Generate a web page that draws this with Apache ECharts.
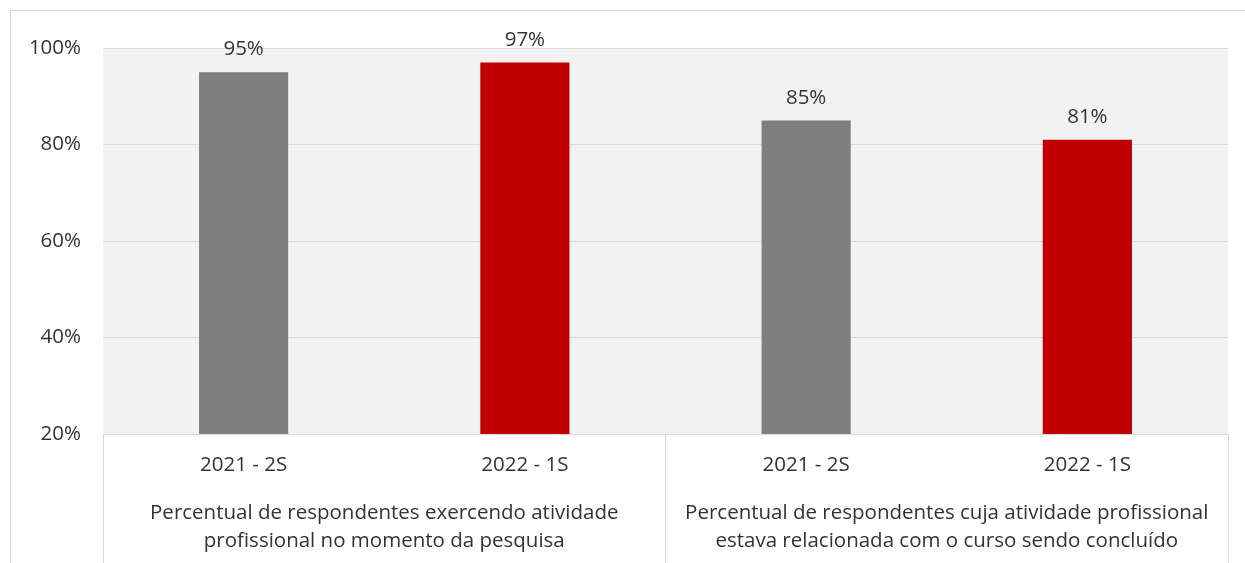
<!DOCTYPE html>
<html>
<head>
<meta charset="utf-8">
<script src="https://cdn.jsdelivr.net/npm/echarts@6/dist/echarts.min.js"></script>
<style>
  html, body { margin: 0; padding: 0; background: #fff; }
  #wrap { position: relative; width: 1245px; height: 563px; overflow: hidden; }
  #chart { position: absolute; left: 0; top: 0; width: 1245px; height: 563px; }
  #frame { position: absolute; left: 10px; top: 10px; width: 1300px; height: 700px;
           border-top: 1px solid #d9d9d9; border-left: 1px solid #d9d9d9; pointer-events: none; }
</style>
</head>
<body>
<div id="wrap"><div id="frame"></div><div id="chart"></div></div>
<script>
const periods = ['2021 - 2S', '2022 - 1S', '2021 - 2S', '2022 - 1S'];
const groups = [
  'Percentual de respondentes exercendo atividade\nprofissional no momento da pesquisa',
  'Percentual de respondentes cuja atividade profissional\nestava relacionada com o curso sendo concluído'
];
const values = [95, 97, 85, 81];
const barColors = ['#7f7f7f', '#c00000', '#7f7f7f', '#c00000'];
const yTicks = [20, 40, 60, 80, 100];

const FONT = '"Open Sans", "Noto Sans", sans-serif';
const TXT = '#333333';
const FS = 20.5;
const chart = echarts.init(document.getElementById('chart'), null, { renderer: 'canvas' });
chart.setOption({
  animation: false,
  grid: { left: 103, right: 17, top: 48, bottom: 129, show: true, backgroundColor: '#f2f2f2', borderWidth: 0 },
  xAxis: [
    {
      type: 'category', data: periods, position: 'bottom',
      axisLine: { show: true, lineStyle: { color: '#d9d9d9', width: 1 } },
      axisTick: { show: false },
      axisLabel: { fontFamily: FONT, fontSize: FS, color: TXT, margin: 21 }
    },
    {
      type: 'category', data: groups, position: 'bottom',
      axisLine: { show: false },
      axisTick: { show: true, length: 130, interval: 0, lineStyle: { color: '#d9d9d9', width: 1 } },
      axisLabel: { fontFamily: FONT, fontSize: FS, color: TXT, margin: 65, lineHeight: 28, interval: 0 }
    }
  ],
  yAxis: {
    type: 'value', min: yTicks[0], max: yTicks[yTicks.length - 1], interval: 20,
    axisLine: { show: false }, axisTick: { show: false },
    splitLine: { show: true, lineStyle: { color: '#d9d9d9', width: 1 } },
    axisLabel: { fontFamily: FONT, fontSize: FS, color: TXT, margin: 22, formatter: '{value}%' }
  },
  series: [{
    type: 'bar', xAxisIndex: 0,
    data: values.map((v, i) => ({ value: v, itemStyle: { color: barColors[i] } })),
    barWidth: '31.7%',
    label: { show: true, position: 'top', distance: 12, fontFamily: FONT, fontSize: FS, color: TXT, formatter: '{c}%' }
  }]
});
</script>
</body>
</html>
